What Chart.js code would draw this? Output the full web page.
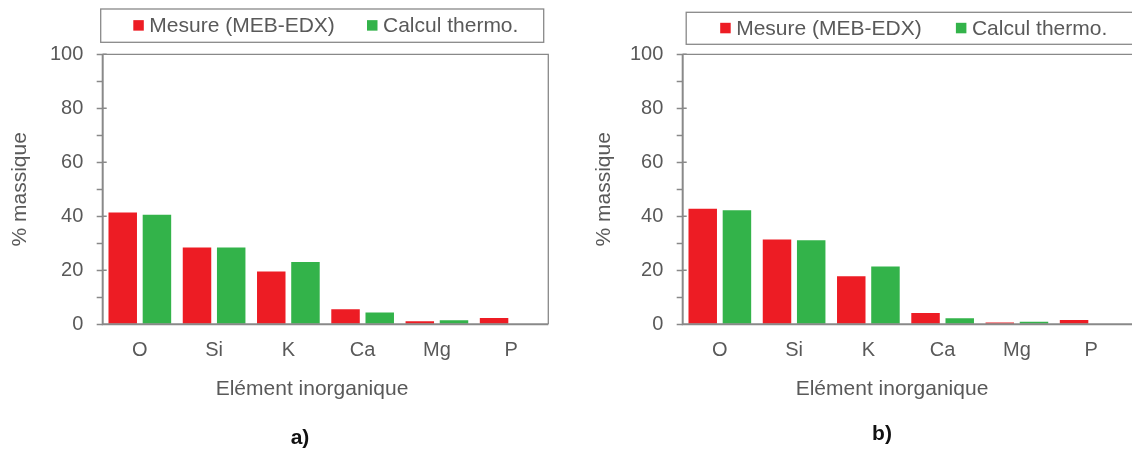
<!DOCTYPE html>
<html>
<head>
<meta charset="utf-8">
<script src="https://cdn.jsdelivr.net/npm/chart.js@4.4.0/dist/chart.umd.min.js"></script>
<style>
  html, body { margin: 0; padding: 0; background: #fff; overflow: hidden; }
  #wrap { position: relative; width: 1132px; height: 450px; overflow: hidden; }
  .panel { position: absolute; top: 0; width: 566px; height: 450px; }
</style>
</head>
<body>
<div id="wrap">
  <div class="panel" style="left:0"><canvas id="chartA"></canvas></div>
  <div class="panel" style="left:566px"><canvas id="chartB"></canvas></div>
</div>
<script>
"use strict";

const categories = ["O", "Si", "K", "Ca", "Mg", "P"];
const seriesLabels = ["Mesure (MEB-EDX)", "Calcul thermo."];
const mesureA = [41.4, 28.4, 19.6, 5.6, 1.1, 2.3];
const calculA = [40.6, 28.4, 23.1, 4.4, 1.5, 0];
const mesureB = [42.8, 31.4, 17.8, 4.2, 0.7, 1.6];
const calculB = [42.2, 31.1, 21.4, 2.2, 0.9, 0];
const xTitle = "Elément inorganique";
const yTitle = "% massique";

const RED = "#ed1c24";
const GREEN = "#33b34a";
const TEXT = "#595959";
const LINE = "#898989";
const FONT = "'Liberation Sans', Arial, sans-serif";

// frame, legend box, axis titles and panel letter
const decor = {
    id: "decor",
    afterDraw(chart, args, o) {
        const ctx = chart.ctx;
        const a = chart.chartArea;
        const rightEnd = o.openRight ? chart.width : a.right;
        ctx.save();

        ctx.strokeStyle = LINE;
        ctx.lineWidth = 1.3;
        ctx.beginPath();
        ctx.moveTo(a.left, a.top);
        ctx.lineTo(rightEnd, a.top);
        if (!o.openRight) ctx.lineTo(a.right, a.bottom);
        ctx.stroke();

        ctx.lineWidth = 2;
        ctx.beginPath();
        ctx.moveTo(a.left, a.top);
        ctx.lineTo(a.left, a.bottom);
        ctx.lineTo(rightEnd, a.bottom);
        ctx.stroke();

        // major ticks cross the axis a little
        const ys = chart.scales.y;
        ctx.lineWidth = 1.5;
        ctx.beginPath();
        for (let v = 20; v <= 100; v += 20) {
            const py = ys.getPixelForValue(v);
            ctx.moveTo(a.left, py);
            ctx.lineTo(a.left + 4, py);
        }
        ctx.stroke();

        // legend
        ctx.lineWidth = 1.3;
        ctx.strokeRect(o.legendX, o.legendY, o.legendW, o.legendH);
        const midY = o.legendY + o.legendH / 2;
        ctx.font = "21px " + FONT;
        ctx.textBaseline = "middle";
        ctx.textAlign = "left";
        chart.data.datasets.forEach((ds, i) => {
            const sx = o.legendX + o.itemOffsets[i];
            ctx.fillStyle = ds.backgroundColor;
            ctx.fillRect(sx, midY - 5.5, 10.5, 10.5);
            ctx.fillStyle = TEXT;
            ctx.fillText(ds.label, sx + 16, midY + 1);
        });

        // axis titles
        ctx.textAlign = "center";
        ctx.fillText(xTitle, (a.left + a.right) / 2 - 13.5, 389);
        ctx.save();
        ctx.translate(a.left - o.yTitleGap, (a.top + a.bottom) / 2);
        ctx.rotate(-Math.PI / 2);
        ctx.fillText(yTitle, 0, 0);
        ctx.restore();

        ctx.font = "bold 21px " + FONT;
        ctx.fillStyle = "#111";
        ctx.fillText(o.panel, o.panelX, o.panelY);

        ctx.restore();
    }
};

function makeChart(id, mesure, calcul, opts) {
    const ctx = document.getElementById(id).getContext("2d");
    return new Chart(ctx, {
        type: "bar",
        data: {
            labels: categories,
            datasets: [{
                label: seriesLabels[0],
                data: mesure,
                backgroundColor: RED,
                borderWidth: 0
            }, {
                label: seriesLabels[1],
                data: calcul,
                backgroundColor: GREEN,
                borderWidth: 0
            }]
        },
        options: {
            responsive: true,
            maintainAspectRatio: false,
            animation: false,
            categoryPercentage: 0.921,
            barPercentage: 0.833,
            layout: {
                padding: { left: 0, top: 54.3, right: opts.padRight, bottom: 0 }
            },
            plugins: {
                legend: { display: false },
                tooltip: { enabled: false },
                decor: opts
            },
            scales: {
                x: {
                    grid: { display: false, drawTicks: false },
                    border: { display: false },
                    ticks: {
                        color: TEXT,
                        padding: 14,
                        font: { family: FONT, size: 20 }
                    },
                    afterFit(scale) { scale.height = 125.7; }
                },
                y: {
                    min: 0,
                    max: 100,
                    grid: {
                        drawOnChartArea: false,
                        drawTicks: true,
                        tickLength: 6,
                        tickColor: LINE,
                        tickWidth: 1.5
                    },
                    border: { display: false },
                    ticks: {
                        stepSize: 10,
                        color: TEXT,
                        padding: 13.4,
                        font: { family: FONT, size: 20 },
                        callback: (v) => (v % 20 === 0 ? v : "")
                    },
                    afterFit(scale) { scale.width = opts.axisLeft; }
                }
            }
        },
        plugins: [decor]
    });
}

makeChart("chartA", mesureA, calculA, {
    axisLeft: 102.7,
    padRight: 17.7,
    openRight: false,
    legendX: 100.7, legendY: 9, legendW: 443, legendH: 33.3,
    itemOffsets: [32.6, 266.3],
    yTitleGap: 82.7,
    panel: "a)", panelX: 300, panelY: 438
});

makeChart("chartB", mesureB, calculB, {
    axisLeft: 116.7,
    padRight: 3.7,
    openRight: true,
    legendX: 120.2, legendY: 12.3, legendW: 500, legendH: 32,
    itemOffsets: [34, 269.7],
    yTitleGap: 78.7,
    panel: "b)", panelX: 316, panelY: 434
});
</script>
</body>
</html>
